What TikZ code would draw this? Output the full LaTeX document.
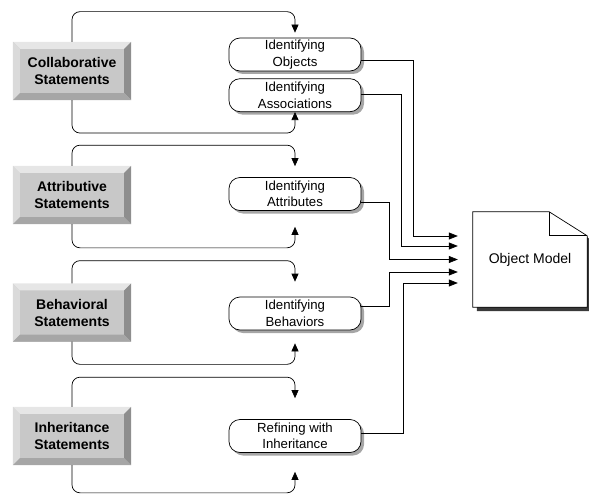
\documentclass[tikz,border=0pt]{standalone}
\usepackage{fontspec}
\setmainfont{Liberation Sans}
\usetikzlibrary{arrows.meta, positioning, calc, shadows, backgrounds}

\definecolor{face}{HTML}{C8C8C8}
\definecolor{bevtop}{HTML}{E6E6E6}
\definecolor{bevleft}{HTML}{DADADA}
\definecolor{bevright}{HTML}{8E8E8E}
\definecolor{bevbot}{HTML}{A6A6A6}
\definecolor{docshade}{HTML}{3A3A3A}

\begin{document}
\begin{tikzpicture}[x=1pt, y=-1pt,
    stmtbox/.style={fill=face, minimum width=118pt, minimum height=58pt, inner sep=0pt,
        align=center, font=\fontsize{14}{17}\selectfont\bfseries},
    task/.style={draw, fill=white, rounded corners=11pt, minimum width=132pt,
        minimum height=33pt, inner sep=0pt, align=center, line width=0.7pt,
        font=\fontsize{13.2}{16.5}\selectfont,
        drop shadow={shadow xshift=3pt, shadow yshift=-3pt, fill=black!35, opacity=1}},
    docnode/.style={minimum width=114pt, minimum height=95pt, inner sep=0pt,
        font=\fontsize{14}{17}\selectfont},
    iterline/.style={line width=0.7pt, rounded corners=8pt, -{Triangle[length=8pt,width=7pt]}},
    tomodel/.style={line width=0.7pt, -{Triangle[length=9pt,width=7pt]}}]
\useasboundingbox (0,0) rectangle (589,495);

% statements
\node[stmtbox] (col) at (72,71) {Collaborative\\Statements};
\node[stmtbox] (att) at (72,195) {Attributive\\Statements};
\node[stmtbox] (beh) at (72,312.5) {Behavioral\\Statements};
\node[stmtbox] (inh) at (72,436) {Inheritance\\Statements};
\foreach \s in {col,att,beh,inh}{
    \fill[bevtop] (\s.north west) -- (\s.north east) -- ($(\s.north east)+(-7,7)$) -- ($(\s.north west)+(7,7)$) -- cycle;
    \fill[bevleft] (\s.north west) -- ($(\s.north west)+(7,7)$) -- ($(\s.south west)+(7,-7)$) -- (\s.south west) -- cycle;
    \fill[bevright] (\s.north east) -- ($(\s.north east)+(-7,7)$) -- ($(\s.south east)+(-7,-7)$) -- (\s.south east) -- cycle;
    \fill[bevbot] (\s.south west) -- ($(\s.south west)+(7,-7)$) -- ($(\s.south east)+(-7,-7)$) -- (\s.south east) -- cycle;
}

% activities
\node[task] (obj) at (295,54.5) {Identifying\\Objects};
\node[task, below=7pt of obj] (asc) {Identifying\\Associations};
\node[task] (atr) at (295,194) {Identifying\\Attributes};
\node[task] (bhv) at (295,313.5) {Identifying\\Behaviors};
\node[task] (ref) at (295,436) {Refining with\\Inheritance};

% object model document
\node[docnode] (om) at (530,259.5) {Object Model};
\begin{scope}[on background layer]
    \draw[line width=0.7pt, fill=white,
        drop shadow={shadow xshift=4pt, shadow yshift=-4pt, fill=docshade, opacity=1}]
        (om.south west) -- (om.north west) -- ([xshift=-38pt]om.north east)
        -- ([yshift=-24pt]om.north east) -- (om.south east) -- cycle;
\end{scope}
\draw[line width=0.7pt] ([xshift=-38pt]om.north east) |- ([yshift=-24pt]om.north east);

% iteration loops
\foreach \s/\t/\b/\ta/\tb in {col/obj/asc/5/0, att/atr/atr/11/16, beh/bhv/bhv/15/13, inh/ref/ref/21/19}{
    \draw[iterline] (\s.north) |- ([yshift=\ta pt+21pt]\t.north) -- ([yshift=\ta pt]\t.north);
    \draw[iterline] (\s.south) |- ([yshift=-\tb pt-21pt]\b.south) -- ([yshift=-\tb pt]\b.south);
}

% into the model
\coordinate (in1) at ($(om.west)+(-15,-23.5)$);
\coordinate (in2) at ($(om.west)+(-15,-13.5)$);
\coordinate (in3) at ($(om.west)+(-15,0)$);
\coordinate (in4) at ($(om.west)+(-15,12.5)$);
\coordinate (in5) at ($(om.west)+(-15,23.5)$);
\draw[tomodel] ([yshift=-5.5pt]obj.east) -- ++(52,0) |- (in1);
\draw[tomodel] ([yshift=1pt]asc.east) -- ++(40,0) |- (in2);
\draw[tomodel] ([yshift=-8pt]atr.east) -- ++(28,0) |- (in3);
\draw[tomodel] ([yshift=7.5pt]bhv.east) -- ++(28,0) |- (in4);
\draw[tomodel] ([yshift=3pt]ref.east) -- ++(42,0) |- (in5);
\end{tikzpicture}
\end{document}
